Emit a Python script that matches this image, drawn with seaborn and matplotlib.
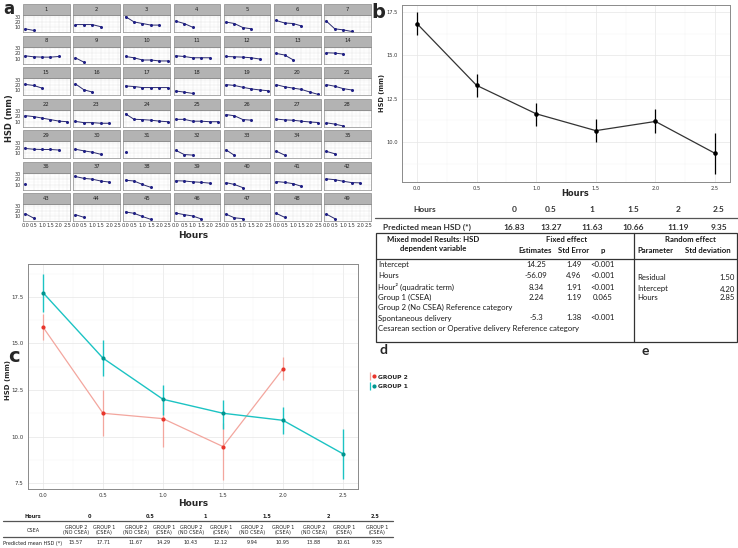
import numpy as np
import pandas as pd
import matplotlib
matplotlib.use('Agg')
import matplotlib.pyplot as plt
import seaborn as sns
from matplotlib.lines import Line2D
from matplotlib.patches import Rectangle
from matplotlib.legend_handler import HandlerTuple

# ---------------- data ----------------
hours = [0.0, 0.5, 1.0, 1.5, 2.0, 2.5]
hour_labels = ['0.0', '0.5', '1.0', '1.5', '2.0', '2.5']

subject_ids = list(range(1, 50))
subject_hsd = [
    [7, 4], [15, 15, 15, 11], [30, 20, 17, 14, 14], [21.5, 17, 10],
    [19.7, 17, 9.4, 7], [22.7, 18, 17, 12.4], [21.5, 7, 5, 2],
    [15.5, 13.6, 13, 13, 14.2], [11.8, 3.6], [14.2, 11.8, 7.6, 7.6, 5.8, 5.8],
    [15.5, 14.2, 11.8, 11.8, 11.8], [14.2, 13.6, 13, 11.8, 9.4], [20, 17, 8],
    [21.2, 20.6, 18.8],
    [21, 19, 14], [22, 11, 6.5], [18, 17, 15, 15, 15, 15], [8.5, 6.5, 4],
    [20.5, 19, 15.5, 12.5, 10.5, 9], [20.5, 16.5, 14, 11.5, 6.5, 2],
    [20.5, 17.5, 13, 10.5],
    [21.4, 19.7, 16.9, 14, 11.1, 10], [10.6, 8.3, 8.3, 7.1, 7.1],
    [24.9, 14.6, 14, 12.9, 11.1, 10], [14.5, 14.5, 11, 11, 10, 10],
    [23.5, 21.2, 14.1, 12.9], [15, 13.5, 12.8, 11, 9.5, 8.5], [8, 5.5, 2],
    [19, 17.5, 17, 17, 16], [17.5, 14.5, 12, 8], [13], [15.5, 7.5, 6.5],
    [16.5, 6], [14, 6.5], [13.5, 9],
    [11.5], [25.5, 22, 20.5, 17, 15], [18.5, 17, 10.5, 5],
    [17.5, 17, 15.5, 14.5, 13], [14, 10.5, 4.5], [16, 14.5, 12, 7],
    [21, 19.5, 16.5, 14, 13.5],
    [15, 6.5], [13, 8], [18, 15.5, 9.5, 4], [16, 13, 10.5, 5], [14, 7, 5.5],
    [15.5, 8], [14, 5.5],
]

b_mean = [16.83, 13.27, 11.63, 10.66, 11.19, 9.35]
b_low = [16.19, 12.60, 10.92, 10.00, 10.52, 8.17]
b_high = [17.50, 13.94, 12.27, 11.35, 11.88, 10.54]

c_g1_mean = [17.73, 14.21, 12.00, 11.25, 10.87, 9.07]
c_g1_low = [16.68, 13.23, 11.13, 10.43, 10.12, 7.73]
c_g1_high = [18.74, 15.16, 12.78, 11.97, 11.61, 10.38]
c_g2_mean = [15.88, 11.25, 10.96, 9.46, 13.64]
c_g2_low = [15.16, 10.05, 9.42, 7.69, 13.05]
c_g2_high = [16.56, 12.50, 11.97, 10.71, 14.26]

b_tab_hours = ['0', '0.5', '1', '1.5', '2', '2.5']
b_tab_pred = ['16.83', '13.27', '11.63', '10.66', '11.19', '9.35']

c_tab_hours = ['0', '0.5', '1', '1.5', '2', '2.5']
c_tab_groups = ['GROUP 2\n(NO CSEA)', 'GROUP 1\n(CSEA)'] * 5 + ['GROUP 1\n(CSEA)']
c_tab_pred = ['15.57', '17.71', '11.67', '14.29', '10.43', '12.12', '9.94',
              '10.95', '13.88', '10.61', '9.35']

d_rows = ['Intercept', 'Hours', 'Hour² (quadratic term)', 'Group 1 (CSEA)',
          'Group 2 (No CSEA) Reference category', 'Spontaneous delivery',
          'Cesarean section or Operative delivery Reference category']
d_est = ['14.25', '-56.09', '8.34', '2.24', '', '-5.3', '']
d_se = ['1.49', '4.96', '1.91', '1.19', '', '1.38', '']
d_p = ['<0.001', '<0.001', '<0.001', '0.065', '', '<0.001', '']
e_params = ['Residual', 'Intercept', 'Hours']
e_sd = ['1.50', '4.20', '2.85']

# ---------------- setup ----------------
sns.set_theme(style='white')
plt.rcParams['font.family'] = ['DejaVu Sans']

W, H = 738, 548
fig = plt.figure(figsize=(W / 100, H / 100), dpi=100)
fig.patch.set_facecolor('white')


def add_ax(x0, y0, x1, y1):
    return fig.add_axes([x0 / W, 1 - y1 / H, (x1 - x0) / W, (y1 - y0) / H])


def ftext(x, y, s, **kw):
    kw.setdefault('va', 'center')
    return fig.text(x / W, 1 - y / H, s, **kw)


def hline(x0, x1, y, lw=0.8, color='#444444'):
    fig.add_artist(Line2D([x0 / W, x1 / W], [1 - y / H, 1 - y / H],
                          transform=fig.transFigure, lw=lw, color=color))


def vline(x, y0, y1, lw=0.8, color='#444444'):
    fig.add_artist(Line2D([x / W, x / W], [1 - y0 / H, 1 - y1 / H],
                          transform=fig.transFigure, lw=lw, color=color))


def style_gg(ax, xt, yt, xminor, yminor):
    ax.set_facecolor('white')
    ax.set_xticks(xt)
    ax.set_yticks(yt)
    ax.set_xticks(xminor, minor=True)
    ax.set_yticks(yminor, minor=True)
    ax.grid(True, which='major', color='#e6e6e6', lw=0.5)
    ax.grid(True, which='minor', color='#f2f2f2', lw=0.3)
    ax.set_axisbelow(True)
    for s in ax.spines.values():
        s.set_color('#8a8a8a')
        s.set_linewidth(0.7)
    ax.tick_params(which='minor', length=0)
    ax.tick_params(which='major', length=2, width=0.5, color='#555555',
                   pad=1.2, labelcolor='#333333')


xminor_h = [0.25, 0.75, 1.25, 1.75, 2.25]

# ---------------- panel a ----------------
navy = '#1f1f85'
for i, (sid, vals) in enumerate(zip(subject_ids, subject_hsd)):
    r, c = divmod(i, 7)
    x0 = 23 + 50.2 * c
    y0 = 15 + 31.5 * r
    ax = add_ax(x0, y0, x0 + 46.5, y0 + 17)
    df = pd.DataFrame({'Hours': hours[:len(vals)], 'HSD': vals})
    sns.lineplot(data=df, x='Hours', y='HSD', ax=ax, color='#2a2a6e', lw=0.7,
                 marker='o', markersize=2.2, markeredgewidth=0,
                 markerfacecolor=navy)
    ax.set_xlim(-0.125, 2.625)
    ax.set_ylim(1, 33)
    style_gg(ax, hours, [10, 20, 30], xminor_h, [5, 15, 25])
    ax.grid(True, which='major', color='#e3e3e3', lw=0.35)
    for s in ax.spines.values():
        s.set_linewidth(0.5)
    ax.set_xlabel('')
    ax.set_ylabel('')
    ax.tick_params(which='major', length=1.2, labelsize=3.5, pad=0.5)
    if c != 0:
        ax.set_yticklabels([])
        ax.tick_params(axis='y', length=0)
    else:
        ax.set_yticklabels(['10', '20', '30'])
    if r != 6:
        ax.set_xticklabels([])
        ax.tick_params(axis='x', length=0)
    else:
        ax.set_xticklabels(hour_labels)
    ax.add_patch(Rectangle((0, 1), 1, 11 / 17, transform=ax.transAxes,
                           facecolor='#b3b3b3', edgecolor='#8a8a8a', lw=0.5,
                           clip_on=False))
    ax.text(0.5, 1 + 5.5 / 17, str(sid), transform=ax.transAxes, ha='center',
            va='center', fontsize=3.8, color='#222222')

ftext(3, 9, 'a', fontsize=12, weight='bold')
ftext(10, 118, 'HSD (mm)', rotation=90, ha='center', fontsize=6, weight='bold')
ftext(193, 236, 'Hours', ha='center', fontsize=6.5, weight='bold')

# ---------------- panel b ----------------
axb = add_ax(402, 5, 730, 182)
dfb = pd.DataFrame({'Hours': hours, 'HSD': b_mean})
sns.lineplot(data=dfb, x='Hours', y='HSD', ax=axb, color='#333333', lw=0.9,
             marker='o', markersize=3.3, markeredgewidth=0,
             markerfacecolor='black')
axb.vlines(hours, b_low, b_high, color='black', lw=0.9)
axb.set_xlim(-0.125, 2.625)
axb.set_ylim(7.7, 17.9)
style_gg(axb, hours, [10, 12.5, 15, 17.5], xminor_h, [8.75, 11.25, 13.75, 16.25])
axb.set_xticklabels(hour_labels)
axb.set_yticklabels(['10.0', '12.5', '15.0', '17.5'])
axb.tick_params(labelsize=3.7)
axb.set_xlabel('')
axb.set_ylabel('')
ftext(371, 12, 'b', fontsize=14, weight='bold')
ftext(382, 93, 'HSD (mm)', rotation=90, ha='center', fontsize=4.8, weight='bold')
ftext(575, 193, 'Hours', ha='center', fontsize=6, weight='bold')

# table b
tfont = dict(family=['Lato', 'DejaVu Sans'], fontsize=6.0, color='#333333')
b_cols = [514, 551, 592, 633, 678, 719]
ftext(425, 209, 'Hours', ha='center', weight='bold', **tfont)
for xx, s in zip(b_cols, b_tab_hours):
    ftext(xx, 209, s, ha='center', weight='bold', **tfont)
hline(375, 738, 217.5, lw=0.9, color='#555555')
ftext(383, 227.5, 'Predicted mean HSD (*)', ha='left', weight='bold', **tfont)
for xx, s in zip(b_cols, b_tab_pred):
    ftext(xx, 227.5, s, ha='center', weight='bold', **tfont)

# ---------------- tables d / e ----------------
fig.add_artist(Rectangle((376 / W, 1 - 342 / H), (737 - 376) / W, (342 - 233) / H,
                         transform=fig.transFigure, fill=False, lw=0.9,
                         ec='#333333'))
vline(634, 233, 342, lw=0.9, color='#333333')
hline(376, 737, 259, lw=0.9, color='#333333')
dfont = dict(family=['Lato', 'DejaVu Sans'], fontsize=5.6, color='#1a1a1a')
ftext(433, 240, 'Mixed model Results: HSD', ha='center', weight='bold', **dfont)
ftext(433, 249, 'dependent variable', ha='center', weight='bold', **dfont)
ftext(567, 240, 'Fixed effect', ha='center', weight='bold', **dfont)
ftext(535, 250, 'Estimates', ha='center', weight='bold', **dfont)
ftext(574, 250, 'Std Error', ha='center', weight='bold', **dfont)
ftext(603, 250, 'p', ha='center', weight='bold', **dfont)
ftext(690, 240, 'Random effect', ha='center', weight='bold', **dfont)
ftext(655, 250, 'Parameter', ha='center', weight='bold', **dfont)
ftext(708, 250, 'Std deviation', ha='center', weight='bold', **dfont)
d_y = [265, 276, 287, 297, 307, 318, 328]
for yy, name, e1, e2, e3 in zip(d_y, d_rows, d_est, d_se, d_p):
    ftext(378, yy, name, ha='left', **dfont)
    ftext(536, yy, e1, ha='center', **dfont)
    ftext(574, yy, e2, ha='center', **dfont)
    ftext(603, yy, e3, ha='center', **dfont)
for yy, name, v in zip([278, 289, 298], e_params, e_sd):
    ftext(637, yy, name, ha='left', **dfont)
    ftext(735, yy, v, ha='right', **dfont)
ftext(380, 350, 'd', fontsize=10, weight='bold', family=['Lato', 'DejaVu Sans'])
ftext(642, 351, 'e', fontsize=10, weight='bold', family=['Lato', 'DejaVu Sans'])

# ---------------- panel c ----------------
axc = add_ax(28, 264, 358, 489)
red_line, red_pt = '#F3A69E', '#E8362C'
teal_line, teal_pt = '#1CC3C3', '#00958F'
df1 = pd.DataFrame({'Hours': hours, 'HSD': c_g1_mean})
df2 = pd.DataFrame({'Hours': hours[:5], 'HSD': c_g2_mean})
sns.lineplot(data=df2, x='Hours', y='HSD', ax=axc, color=red_line, lw=0.9)
sns.lineplot(data=df1, x='Hours', y='HSD', ax=axc, color=teal_line, lw=1.0)
axc.vlines(hours[:5], c_g2_low, c_g2_high, color=red_line, lw=0.9)
axc.vlines(hours, c_g1_low, c_g1_high, color=teal_line, lw=1.0)
sns.scatterplot(data=df2, x='Hours', y='HSD', ax=axc, color=red_pt, s=9,
                linewidth=0, zorder=5)
sns.scatterplot(data=df1, x='Hours', y='HSD', ax=axc, color=teal_pt, s=9,
                linewidth=0, zorder=5)
axc.set_xlim(-0.125, 2.625)
axc.set_ylim(7.18, 19.27)
style_gg(axc, hours, [7.5, 10, 12.5, 15, 17.5], xminor_h,
         [8.75, 11.25, 13.75, 16.25, 18.75])
axc.set_xticklabels(hour_labels)
axc.set_yticklabels(['7.5', '10.0', '12.5', '15.0', '17.5'])
axc.tick_params(labelsize=4.0)
axc.set_xlabel('')
axc.set_ylabel('')
ftext(8, 356, 'c', fontsize=14, weight='bold')
ftext(8, 380, 'HSD (mm)', rotation=90, ha='center', fontsize=5, weight='bold')
ftext(193, 503, 'Hours', ha='center', fontsize=6.5, weight='bold')

h2 = (Line2D([], [], marker='|', ms=6, mew=0.9, color=red_line, ls=''),
      Line2D([], [], marker='o', ms=3, color=red_pt, ls='', mew=0))
h1 = (Line2D([], [], marker='|', ms=6, mew=0.9, color=teal_line, ls=''),
      Line2D([], [], marker='o', ms=3, color=teal_pt, ls='', mew=0))
fig.legend([h2, h1], ['GROUP 2', 'GROUP 1'],
           handler_map={tuple: HandlerTuple(ndivide=None)},
           loc='upper left', bbox_to_anchor=(364 / W, 1 - 369 / H),
           frameon=False, handlelength=1.0, handletextpad=0.4,
           labelspacing=0.7, prop=dict(weight='bold', size=4.3))

# table c
cfont = dict(family=['DejaVu Sans'], fontstretch='condensed', fontsize=4.0,
             color='#222222')
ftext(33, 516, 'Hours', ha='center', weight='bold', **cfont)
for xx, s in zip([90, 150, 205, 267, 328, 375], c_tab_hours):
    ftext(xx, 516, s, ha='center', weight='bold', **cfont)
hline(3, 393, 521, lw=0.9, color='#555555')
ftext(33, 530, 'CSEA', ha='center', **cfont)
c_cols = [76, 104, 136, 164, 191, 221, 252, 283, 314, 344, 377]
for xx, s in zip(c_cols, c_tab_groups):
    ftext(xx, 530, s, ha='center', linespacing=1.1, **cfont)
hline(3, 393, 537, lw=0.9, color='#555555')
ftext(3, 543, 'Predicted mean HSD (*)', ha='left', **cfont)
for xx, s in zip(c_cols, c_tab_pred):
    ftext(xx, 543, s, ha='center', **cfont)

fig.savefig('out.png', dpi=100, facecolor='white')
